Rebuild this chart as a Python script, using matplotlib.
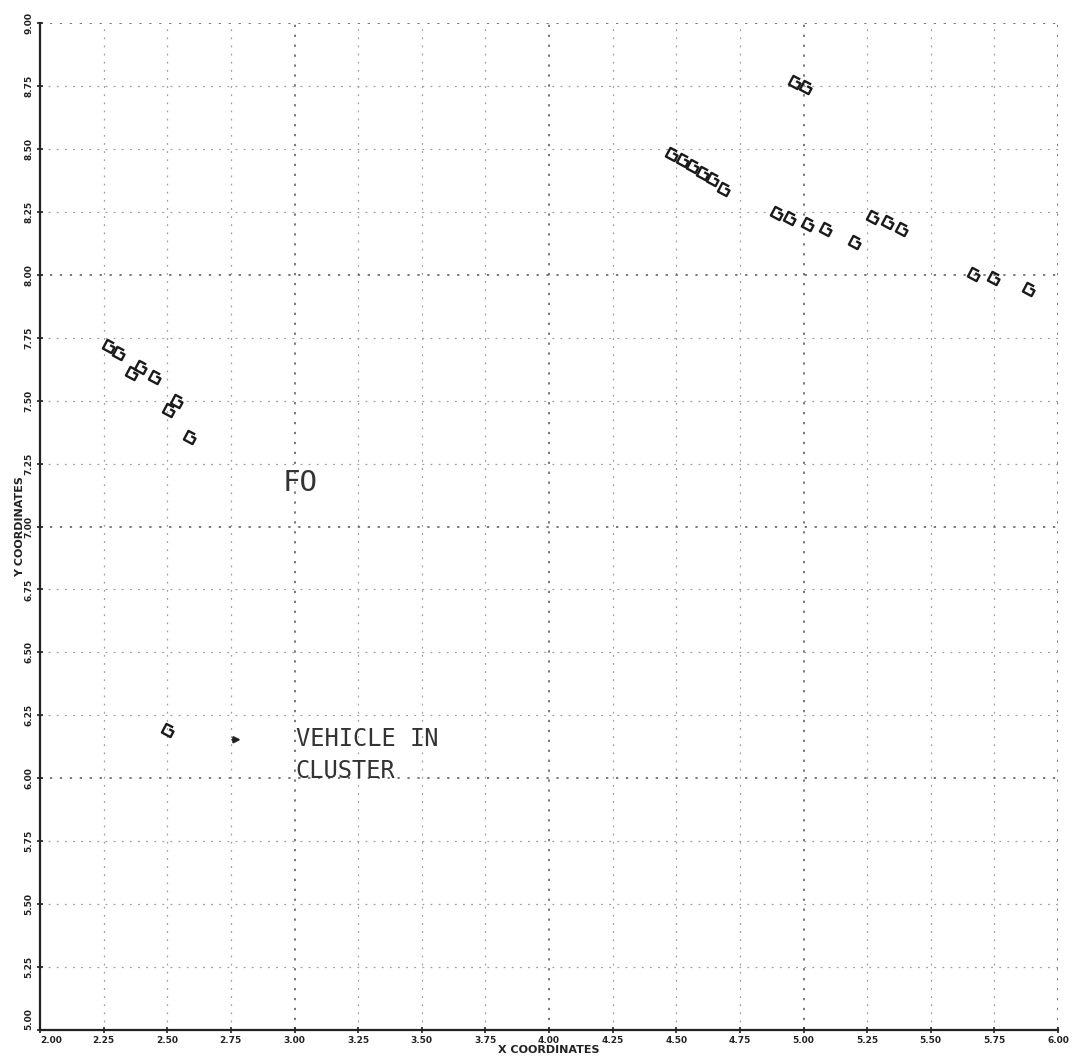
import numpy as np
import matplotlib
matplotlib.use("Agg")
import matplotlib.pyplot as plt
from matplotlib.path import Path
from matplotlib.markers import MarkerStyle

# ---- data ----
x_cluster_left = [2.271, 2.311, 2.362, 2.397, 2.452, 2.507, 2.539, 2.590]
y_cluster_left = [7.715, 7.691, 7.611, 7.635, 7.595, 7.464, 7.500, 7.357]

x_cluster_right = [4.484, 4.527, 4.567, 4.606, 4.645, 4.689,
                   4.968, 5.011,
                   4.897, 4.948, 5.019, 5.090, 5.204, 5.274, 5.333, 5.388,
                   5.671, 5.750, 5.888]
y_cluster_right = [8.478, 8.454, 8.430, 8.406, 8.382, 8.342,
                   8.764, 8.744,
                   8.247, 8.227, 8.200, 8.180, 8.132, 8.231, 8.211, 8.180,
                   8.001, 7.989, 7.945]

legend_marker_x = [2.503]
legend_marker_y = [6.192]

x_ticks = [2.00, 2.25, 2.50, 2.75, 3.00, 3.25, 3.50, 3.75, 4.00,
           4.25, 4.50, 4.75, 5.00, 5.25, 5.50, 5.75, 6.00]
y_ticks = [5.00, 5.25, 5.50, 5.75, 6.00, 6.25, 6.50, 6.75, 7.00,
           7.25, 7.50, 7.75, 8.00, 8.25, 8.50, 8.75, 9.00]
x_tick_labels = ["%.2f" % v for v in x_ticks]
y_tick_labels = ["%.2f" % v for v in y_ticks]

# ---- marker: "G"-like open square hook, rotated ----
verts = np.array([[0.55, 1.0], [-1.0, 1.0], [-1.0, -1.0], [1.0, -1.0],
                  [1.0, 0.3], [0.0, 0.3]])
ang = np.deg2rad(-28)
rot = np.array([[np.cos(ang), -np.sin(ang)], [np.sin(ang), np.cos(ang)]])
verts = verts @ rot.T
codes = [Path.MOVETO] + [Path.LINETO] * (len(verts) - 1)
gmark = MarkerStyle(Path(verts, codes))

fig = plt.figure(figsize=(10.83, 10.59), dpi=100)
fig.patch.set_facecolor("white")
ax = fig.add_axes([40 / 1083, 29 / 1059, 1018 / 1083, 1007 / 1059])
ax.set_xlim(2.0, 6.0)
ax.set_ylim(5.0, 9.0)

# grid
for v in x_ticks[1:]:
    major = abs(v - round(v)) < 1e-9
    ax.axvline(v, color="#555555" if major else "#a0a0a0",
               lw=1.1 if major else 0.9, ls=(0, (1.5, 5)), zorder=1)
for v in y_ticks[1:]:
    major = abs(v - round(v)) < 1e-9
    ax.axhline(v, color="#555555" if major else "#a0a0a0",
               lw=1.1 if major else 0.9, ls=(0, (1.5, 5)), zorder=1)

for s in ["top", "right"]:
    ax.spines[s].set_visible(False)
for s in ["left", "bottom"]:
    ax.spines[s].set_linewidth(1.6)
    ax.spines[s].set_color("#222222")

ax.set_xticks(x_ticks)
ax.set_xticklabels(x_tick_labels, fontsize=6.5, fontweight="bold", color="#222222")
ax.set_yticks(y_ticks)
ax.set_yticklabels(y_tick_labels, fontsize=6.5, fontweight="bold", color="#222222",
                   rotation=90, va="center")
ax.tick_params(axis="both", direction="inout", length=5, width=1.2, color="#222222", pad=2)
ax.get_yticklabels()[0].set_va("bottom")
ax.get_xticklabels()[0].set_ha("left")

mk = dict(marker=gmark, markersize=9.5, markerfacecolor="none",
          markeredgecolor="#1a1a1a", markeredgewidth=1.7, linestyle="none", zorder=3)
ax.plot(x_cluster_left, y_cluster_left, **mk)
ax.plot(x_cluster_right, y_cluster_right, **mk)
ax.plot(legend_marker_x, legend_marker_y, **mk)

ax.set_xlabel("X COORDINATES", fontsize=8, fontweight="bold", color="#222222", labelpad=0)
ax.set_ylabel("Y COORDINATES", fontsize=8, fontweight="bold", color="#222222", labelpad=0)

ax.text(3.022, 7.174, "FO", fontsize=21, family="DejaVu Sans Mono",
        color="#333333", ha="center", va="center", zorder=4)
ax.annotate("", xy=(2.80, 6.153), xytext=(2.745, 6.153),
            arrowprops=dict(arrowstyle="-|>", color="#222222", lw=1.6,
                            mutation_scale=9), zorder=4)
ax.text(3.005, 6.155, "VEHICLE IN", fontsize=17, family="DejaVu Sans Mono",
        color="#333333", ha="left", va="center", zorder=4)
ax.text(3.005, 6.027, "CLUSTER", fontsize=17, family="DejaVu Sans Mono",
        color="#333333", ha="left", va="center", zorder=4)

fig.savefig("out.png", dpi=100, facecolor="white")
